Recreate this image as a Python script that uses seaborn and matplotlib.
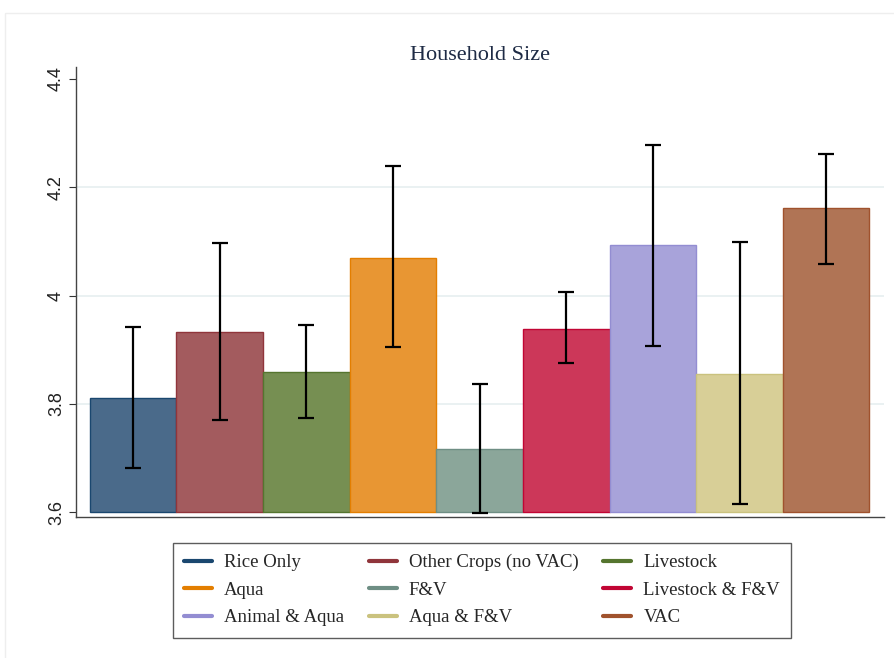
import matplotlib
matplotlib.use("Agg")
import matplotlib.pyplot as plt
from matplotlib.lines import Line2D
from matplotlib.patches import Rectangle
import numpy as np
import pandas as pd
import seaborn as sns

# Values
groups = ['Rice Only', 'Other Crops (no VAC)', 'Livestock', 'Aqua', 'F&V',
          'Livestock & F&V', 'Animal & Aqua', 'Aqua & F&V', 'VAC']
means = [3.811, 3.933, 3.859, 4.070, 3.717, 3.939, 4.093, 3.856, 4.161]
ci_low = [3.681, 3.770, 3.774, 3.906, 3.598, 3.876, 3.907, 3.615, 4.059]
ci_high = [3.943, 4.098, 3.946, 4.239, 3.837, 4.006, 4.278, 4.100, 4.261]
y_ticks = [3.6, 3.8, 4.0, 4.2, 4.4]
y_ticklabels = ['3.6', '3.8', '4', '4.2', '4.4']

# Stata s2color-like palette
fill_colors = ['#4a6a8a', '#a35b5e', '#768f52', '#e89633', '#8ba69a',
               '#cc3759', '#a8a3da', '#d8cf97', '#b07455']
edge_colors = ['#1a476f', '#90353b', '#55752f', '#e37e00', '#6e8e84',
               '#c10534', '#938dd2', '#cac27e', '#a0522d']

base = 3.6
df = pd.DataFrame({'group': groups, 'mean': means})
df['height'] = df['mean'] - base

sns.set_style('white')
plt.rcParams['font.family'] = ['Liberation Serif', 'DejaVu Serif']

fig = plt.figure(figsize=(8.94, 6.58), dpi=100)
ax = fig.add_axes([0.085, 0.214, 0.904, 0.684])

sns.barplot(data=df, x='group', y='height', hue='group', order=groups,
            hue_order=groups, palette=fill_colors, dodge=False, legend=False,
            width=1.0, bottom=base, errorbar=None, saturation=1, ax=ax)

for patch, ec in zip(ax.patches, edge_colors):
    patch.set_edgecolor(ec)
    patch.set_linewidth(1.0)

x = np.arange(len(groups))
yerr = [np.array(means) - np.array(ci_low), np.array(ci_high) - np.array(means)]
ax.errorbar(x, means, yerr=yerr, fmt='none', ecolor='black', elinewidth=1.6,
            capsize=6, capthick=1.6, zorder=5)

ax.set_ylim(3.591, 4.422)
ax.set_xlim(-0.66, 8.67)
ax.set_yticks(y_ticks)
ax.set_yticklabels(y_ticklabels, rotation=90, va='center',
                   family=['Liberation Sans', 'DejaVu Sans'], fontsize=13,
                   color='#222222')
ax.set_xticks([])
ax.set_xlabel('')
ax.set_ylabel('')
ax.tick_params(axis='y', length=5, width=0.8, color='#333333', left=True, pad=3)

for yv in [3.8, 4.0, 4.2]:
    ax.axhline(yv, color='#e6eff0', linewidth=1.2, zorder=0)

ax.spines['top'].set_visible(False)
ax.spines['right'].set_visible(False)
ax.spines['left'].set_color('#444444')
ax.spines['bottom'].set_color('#444444')
ax.spines['left'].set_linewidth(1.0)
ax.spines['bottom'].set_linewidth(1.0)

ax.set_title('Household Size', fontsize=16, color='#1e2b45', pad=5)

# legend is filled row by row in the reference; matplotlib fills by column
ncol = 3
nrow = int(np.ceil(len(groups) / ncol))
order = [r * ncol + c for c in range(ncol) for r in range(nrow)]
handles = [Line2D([0], [0], color=edge_colors[i], lw=3) for i in order]
labels = [groups[i] for i in order]
leg = fig.legend(handles, labels, loc='upper center', ncol=ncol,
                 bbox_to_anchor=(0.539, 0.175), frameon=True, fancybox=False,
                 fontsize=13.5, handlelength=1.5, handletextpad=0.65,
                 columnspacing=1.3, labelspacing=0.55, borderpad=0.6,
                 borderaxespad=0)
leg.get_frame().set_edgecolor('#333333')
leg.get_frame().set_linewidth(1.0)

# faint outer frame like the original graph region
fig.patches.append(Rectangle((0.006, -0.01), 1.0, 0.99, transform=fig.transFigure,
                             fill=False, edgecolor='#eeeeee', linewidth=1.0))

fig.savefig('out.png', dpi=100)
